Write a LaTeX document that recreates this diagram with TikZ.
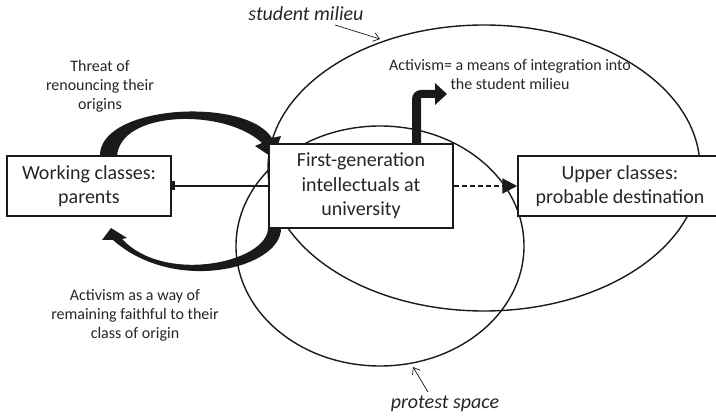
\documentclass[tikz,border=0pt]{standalone}
\usepackage{fontspec}
\setmainfont{Carlito}
\usetikzlibrary{arrows.meta}
\definecolor{ink}{HTML}{1A1A1A}
\definecolor{txt}{HTML}{262626}
\begin{document}
\begin{tikzpicture}[x=1pt,y=-1pt,
  box/.style={draw=ink, line width=1.5pt, fill=white, align=center, inner sep=0pt, font=\fontsize{20}{24.5}\selectfont, text=txt},
  lbl/.style={align=center, inner sep=0pt, font=\fontsize{16}{19}\selectfont, text=txt},
  ital/.style={inner sep=0pt, font=\fontsize{20}{24}\selectfont\itshape, text=txt},
  ring/.style={draw=ink, line width=1.4pt},
  fat/.style={fill=ink, draw=none},
  link/.style={draw=ink, line width=2.4pt},
  pointer/.style={draw=ink, line width=0.7pt, -{Straight Barb[length=6pt,width=9pt]}}
]
\useasboundingbox (0,0) rectangle (716,417);
\fill[white] (0,0) rectangle (716,417);
% ellipses
\draw[ring] (484,168) ellipse [x radius=216pt, y radius=143pt];
\draw[ring] (380,246) ellipse [x radius=144pt, y radius=120pt];
% fat arrows
\fill[fat] (100,157) .. controls (97,105) and (245,96) .. (272,138) -- (281,136) -- (273,158) -- (255,146) -- (262,143) .. controls (225,108) and (119,110) .. (117,157) -- cycle;
\fill[fat] (281,228) .. controls (282,268) and (175,295) .. (113,240) -- (102,240) -- (111,228) -- (127,238) -- (122,239) .. controls (165,285) and (268,262) .. (268,228) -- cycle;
\fill[fat] (412,145) -- (412,99) .. controls (412,94) and (416,90) .. (421,90) -- (435,90) -- (435,83) -- (447,94) -- (435,105) -- (435,98) -- (421,98) -- (421,145) -- cycle;
% boxes
\node[box, minimum width=164pt, minimum height=60pt] (wc) at (89,186) {Working classes:\\parents};
\node[box, minimum width=184pt, minimum height=84pt] (fg) at (361,186) {First-generation\\intellectuals at\\university};
\node[box, minimum width=204pt, minimum height=60pt] (uc) at (620,186) {Upper classes:\\probable destination};
% connectors
\draw[link] (wc.east) -- (fg.west);
\fill[ink] ([yshift=4.5pt]wc.east) rectangle ([xshift=3pt,yshift=-4.5pt]wc.east);
\draw[link, line width=2.2pt, dash pattern=on 5pt off 3pt, -{Triangle[length=15pt,width=15pt]}] (fg.east) -- (uc.west);
% labels
\node[lbl] (threat) at (100,86) {Threat of\\renouncing their\\origins};
\node[lbl] (faith) at (135,315) {Activism as a way of\\remaining faithful to their\\class of origin};
\node[lbl] (integ) at (510,75) {Activism= a means of integration into\\the student milieu};
\node[ital] (sm) at (306,14) {student milieu};
\node[ital] (ps) at (445,404) {protest space};
\coordinate (smfrom) at (335,25);
\coordinate (smtip) at (380,39);
\coordinate (psfrom) at (428,392);
\coordinate (pstip) at (413,367);
\draw[pointer] (smfrom) -- (smtip);
\draw[pointer] (psfrom) -- (pstip);
\end{tikzpicture}
\end{document}
